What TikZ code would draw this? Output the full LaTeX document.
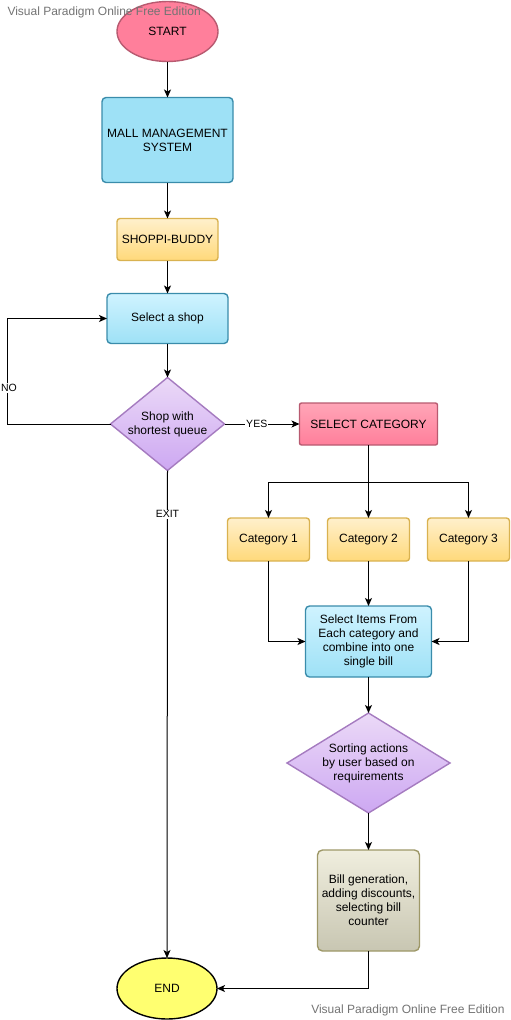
\documentclass[tikz,border=0pt]{standalone}
\usepackage{fontspec}
\setmainfont{Liberation Sans}
\usepackage{tikz}
\usetikzlibrary{arrows.meta,positioning,shapes.geometric}

\definecolor{pinkfill}{HTML}{FF7F9B}
\definecolor{pinktop}{HTML}{FFA5B7}
\definecolor{pinkline}{HTML}{B85A70}
\definecolor{bluefill}{HTML}{9EE1F6}
\definecolor{bluetop}{HTML}{CFF3FF}
\definecolor{blueline}{HTML}{3A8CAB}
\definecolor{yeltop}{HTML}{FFF0CC}
\definecolor{yelbot}{HTML}{FFD97A}
\definecolor{yelline}{HTML}{D9B250}
\definecolor{viotop}{HTML}{EBD9F7}
\definecolor{viobot}{HTML}{CDA8F2}
\definecolor{violine}{HTML}{A57BC0}
\definecolor{khtop}{HTML}{F0EEDE}
\definecolor{khbot}{HTML}{C8C6B2}
\definecolor{khline}{HTML}{9E9868}
\definecolor{endfill}{HTML}{FFFF70}

\begin{document}
\begin{tikzpicture}[
		font=\fontsize{12}{14}\selectfont,
		basic/.style    = {draw, line width=1.4pt, align=center, inner sep=0pt, outer sep=0pt},
		oval/.style     = {basic, ellipse},
		bluebox/.style  = {basic, rounded corners=4pt, draw=blueline, top color=bluetop, bottom color=bluefill},
		yelbox/.style   = {basic, rounded corners=3pt, draw=yelline, top color=yeltop, bottom color=yelbot, minimum width=82pt, minimum height=43pt},
		decision/.style = {basic, diamond, draw=violine, top color=viotop, bottom color=viobot},
		lbl/.style      = {fill=white, inner sep=1pt, font=\fontsize{10.5}{12}\selectfont},
		wmark/.style    = {text=black!55, inner sep=0pt, font=\fontsize{12}{14}\selectfont},
		every path/.style = {line width=1pt},
		>={Stealth[length=8pt, width=7pt, inset=2pt]}]
		
		\useasboundingbox (0,0) rectangle (511pt,-1020pt);
		
		% main column
		\node[oval, draw=pinkline, fill=pinkfill, minimum width=101pt, minimum height=60pt] (start) at (167.5pt,-31.5pt) {START};
		\node[bluebox, top color=bluefill, minimum width=131pt, minimum height=85pt, below=36pt of start] (mall) {MALL MANAGEMENT\\SYSTEM};
		\node[yelbox, minimum width=101pt, minimum height=42pt, below=36pt of mall] (buddy) {SHOPPI-BUDDY};
		\node[bluebox, minimum width=121pt, minimum height=50pt, below=33pt of buddy] (shop) {Select a shop};
		\node[decision, aspect=1.2, minimum width=114pt, minimum height=93pt, below=34pt of shop] (queue) {Shop with\\shortest queue};
		\node[oval, draw=black, fill=endfill, minimum width=100pt, minimum height=61pt] (end) at (167pt,-988.5pt) {END};
		
		% right branch
		\node[basic, draw=pinkline, top color=pinktop, bottom color=pinkfill, rounded corners=2pt, minimum width=138pt, minimum height=42pt, right=75pt of queue] (selcat) {SELECT CATEGORY};
		\node[yelbox, below=73pt of selcat] (cat2) {Category 2};
		\node[yelbox, left=18pt of cat2] (cat1) {Category 1};
		\node[yelbox, right=18pt of cat2] (cat3) {Category 3};
		\node[bluebox, minimum width=126pt, minimum height=71pt, below=45pt of cat2] (items) {Select Items From\\Each category and\\combine into one\\single bill};
		\node[decision, aspect=1.6, minimum width=163pt, minimum height=100pt, below=36pt of items] (sort) {Sorting actions\\by user based on\\requirements};
		\node[basic, rounded corners=5pt, draw=khline, top color=khtop, bottom color=khbot, minimum width=102pt, minimum height=101pt, below=37pt of sort] (bill) {Bill generation,\\adding discounts,\\selecting bill\\counter};
		
		\coordinate[below=37pt of selcat.south] (split);
		\coordinate (noleft) at (7pt,0 |- queue.west);
		
		% straight arrows
		\foreach \a/\b in {start/mall, mall/buddy, buddy/shop, shop/queue, cat2/items, items/sort, sort/bill}
		\draw[->] (\a) -- (\b);
		
		% decisions
		\draw[->] (queue.west) -- (noleft) |- node[lbl, pos=0.17, xshift=2pt] {NO} (shop.west);
		\draw[->] (queue.east) -- node[lbl, pos=0.43] {YES} (selcat.west);
		\draw[->] (queue.south) -- node[lbl, pos=0.09] {EXIT} (end.north);
		
		% category split
		\draw (selcat.south) -- (split);
		\foreach \value in {1,2,3}
		\draw[->] (split) -| (cat\value.north);
		
		\draw[->] (cat1.south) |- (items.west);
		\draw[->] (cat3.south) |- (items.east);
		\draw[->] (bill.south) |- (end.east);
		
		% watermarks
		\node[wmark, anchor=west] (wm1) at (7pt,-12pt) {Visual Paradigm Online Free Edition};
		\node[wmark, anchor=east] (wm2) at (505pt,-1010pt) {Visual Paradigm Online Free Edition};
		
	\end{tikzpicture}
\end{document}
